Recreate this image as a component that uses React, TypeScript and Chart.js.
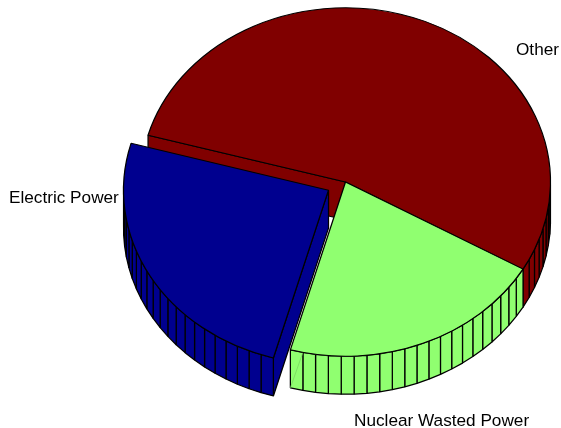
import React, { useEffect, useRef } from "react";
import { Chart, registerables } from "chart.js";

Chart.register(...registerables);

const categories = ["Other", "Nuclear Wasted Power", "Electric Power"];
const shares = [54, 21, 25];
const sliceColors = ["#800000", "#90FF70", "#00008F"];
const pulledOut = [0, 0, 78];

const WIDTH = 561;
const HEIGHT = 428;
const TILT = 0.85; // vertical squash of the pie's top face
const DEPTH = 38; // height of the extruded wall
const labelPlacement = [
  { x: 516, y: 50 },
  { x: 354, y: 421 },
  { x: 9, y: 198 },
];

// Projects a point given in the flat pie's polar form onto the tilted disc.
function project(arc: any, radius: number, angle: number, drop = 0) {
  const mid = (arc.startAngle + arc.endAngle) / 2;
  const shift = (arc.options.offset || 0) / 4;
  const px = Math.cos(mid) * shift + Math.cos(angle) * radius;
  const py = Math.sin(mid) * shift + Math.sin(angle) * radius;
  return { x: arc.x + px, y: arc.y + py * TILT + drop };
}

function quad(ctx: CanvasRenderingContext2D, pts: { x: number; y: number }[], fill: string) {
  ctx.beginPath();
  ctx.moveTo(pts[0].x, pts[0].y);
  pts.slice(1).forEach((p) => ctx.lineTo(p.x, p.y));
  ctx.closePath();
  ctx.fillStyle = fill;
  ctx.fill();
  ctx.stroke();
}

// Draws the side walls first, then squashes the pie's own arcs into the top face.
const pie3d = {
  id: "pie3d",
  beforeDatasetsDraw(chart: any) {
    const { ctx } = chart;
    const arcs = chart.getDatasetMeta(0).data;
    ctx.save();
    ctx.strokeStyle = "#000";
    ctx.lineWidth = 1.25;
    ctx.lineJoin = "bevel";
    arcs.forEach((arc: any, i: number) => {
      const fill = arc.options.backgroundColor;
      const r = arc.outerRadius;
      const facets = shares[i];
      const step = (arc.endAngle - arc.startAngle) / facets;

      // Cut faces that turn towards the viewer.
      const cuts: number[] = [];
      if (Math.cos(arc.startAngle) < 0) cuts.push(arc.startAngle);
      if (Math.cos(arc.endAngle) > 0) cuts.push(arc.endAngle);
      cuts.forEach((a) => {
        quad(ctx, [
          project(arc, 0, a),
          project(arc, r, a),
          project(arc, r, a, DEPTH),
          project(arc, 0, a, DEPTH),
        ], fill);
      });

      // One rim facet per percentage point, front half only.
      for (let k = 0; k < facets; k++) {
        const a0 = arc.startAngle + k * step;
        const a1 = a0 + step;
        if (Math.sin((a0 + a1) / 2) <= 0) continue;
        quad(ctx, [
          project(arc, r, a0),
          project(arc, r, a1),
          project(arc, r, a1, DEPTH),
          project(arc, r, a0, DEPTH),
        ], fill);
      }

      // Faint triangle seam on the last rim facet of the green slice.
      if (i === 1) {
        const a1 = arc.endAngle;
        const a0 = a1 - step;
        const from = project(arc, r, a0);
        const to = project(arc, r, a1, DEPTH);
        ctx.save();
        ctx.strokeStyle = "#78D860";
        ctx.lineWidth = 0.8;
        ctx.beginPath();
        ctx.moveTo(from.x, from.y);
        ctx.lineTo(to.x, to.y);
        ctx.stroke();
        ctx.restore();
      }
    });
    ctx.restore();
  },
  beforeDatasetDraw(chart: any) {
    const { ctx } = chart;
    const first = chart.getDatasetMeta(0).data[0];
    ctx.save();
    ctx.translate(0, first.y);
    ctx.scale(1, TILT);
    ctx.translate(0, -first.y);
  },
  afterDatasetDraw(chart: any) {
    chart.ctx.restore();
  },
  afterDraw(chart: any) {
    const { ctx } = chart;
    ctx.save();
    ctx.fillStyle = "#000";
    ctx.font = '17.2px "Liberation Sans", Arial, sans-serif';
    ctx.textBaseline = "middle";
    ctx.textAlign = "left";
    chart.data.labels.forEach((label: string, i: number) => {
      ctx.fillText(label, labelPlacement[i].x, labelPlacement[i].y);
    });
    ctx.restore();
  },
};

export default function App() {
  const ref = useRef<HTMLCanvasElement>(null);

  useEffect(() => {
    const chart = new Chart(ref.current as HTMLCanvasElement, {
      type: "pie",
      data: {
        labels: categories,
        datasets: [
          {
            data: shares,
            backgroundColor: sliceColors,
            borderColor: "#000",
            borderWidth: 1.25,
            offset: pulledOut,
            radius: 205,
            clip: false,
          } as any,
        ],
      },
      options: {
        animation: false,
        responsive: false,
        events: [],
        rotation: 285.6,
        layout: { padding: { left: 130, right: 0, top: 0, bottom: 64 } },
        plugins: { legend: { display: false }, tooltip: { enabled: false } },
      },
      plugins: [pie3d],
    });
    return () => chart.destroy();
  }, []);

  return (
    <div style={{ position: "absolute", left: 0, top: 0, width: WIDTH, height: HEIGHT, background: "#fff" }}>
      <canvas ref={ref} width={WIDTH} height={HEIGHT} style={{ display: "block" }} />
    </div>
  );
}
